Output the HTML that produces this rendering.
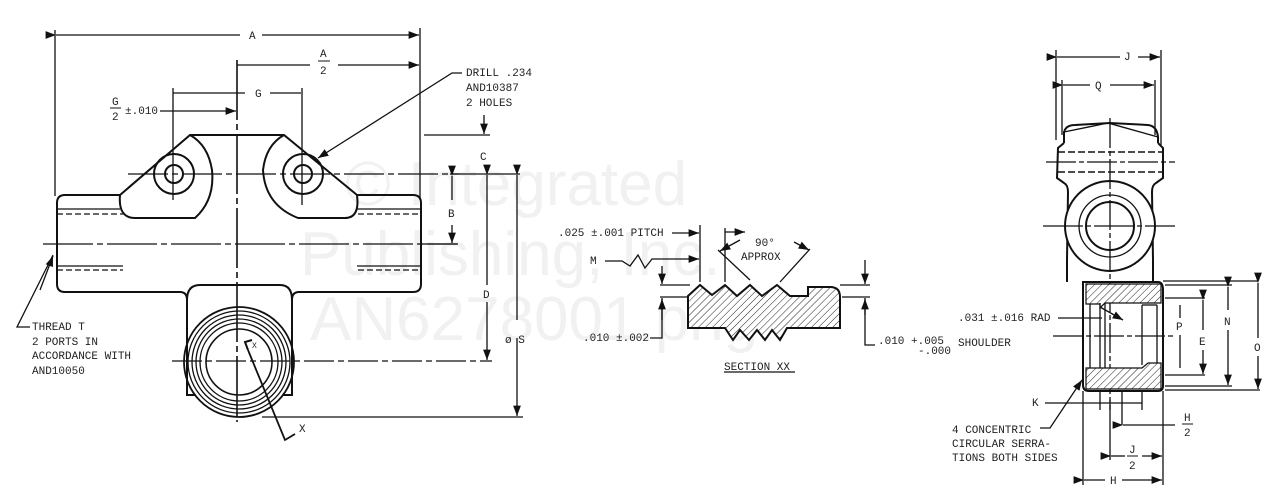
<!DOCTYPE html>
<html><head><meta charset="utf-8"><style>
html,body{margin:0;padding:0;background:#fff;width:1272px;height:498px;overflow:hidden}
svg{display:block}
text{font-family:"Liberation Mono",monospace;font-size:11px;fill:#222}
.wm{font-family:"Liberation Sans",sans-serif;font-size:62px;fill:#f1f1f1}
</style></head><body>
<svg width="1272" height="498" viewBox="0 0 1272 498" xmlns="http://www.w3.org/2000/svg">
<defs>
<pattern id="h" width="5" height="5" patternUnits="userSpaceOnUse" patternTransform="rotate(45)">
<rect width="5" height="5" fill="#fff"/><line x1="0" y1="0" x2="0" y2="5" stroke="#222" stroke-width="1"/></pattern>
<marker id="a" markerWidth="8" markerHeight="6" refX="8" refY="3" orient="auto"><path d="M0,0 L8,3 L0,6 z" fill="#111"/></marker>
</defs>
<text class="wm" x="345" y="205">© Integrated</text>
<text class="wm" x="300" y="275">Publishing, Inc.</text>
<text class="wm" x="310" y="340">AN6278001.png</text>

<g stroke="#111" fill="none" stroke-width="1.3">
<line x1="55" y1="30" x2="55" y2="196"/><line x1="420" y1="28" x2="420" y2="200"/>
<line x1="56" y1="35" x2="240" y2="35" marker-start="url(#a)"/><line x1="262" y1="35" x2="419" y2="35" marker-end="url(#a)"/>
<line x1="237" y1="65" x2="310" y2="65"/><line x1="338" y1="65" x2="419" y2="65" marker-end="url(#a)"/>
<line x1="173" y1="88" x2="173" y2="200"/><line x1="302" y1="88" x2="302" y2="205"/>
<line x1="173" y1="93" x2="245" y2="93"/><line x1="270" y1="93" x2="301" y2="93"/>
<line x1="160" y1="111" x2="236" y2="111" marker-end="url(#a)"/>
<line x1="237" y1="60" x2="237" y2="422" stroke-width="1.6" stroke-dasharray="60 4 6 4"/>
<path d="M120,195 L190,135 L284,135 L357,195" stroke-width="2"/>
<path d="M120,195 Q118,218 135,218 L195,218 Q215,200 212,170 Q208,145 190,135" stroke-width="2"/>
<path d="M357,195 Q360,218 345,218 L298,218 Q265,205 263,170 Q266,145 284,135" stroke-width="2"/>
<circle cx="174" cy="174" r="20" stroke-width="2"/><circle cx="174" cy="174" r="9" stroke-width="2"/>
<circle cx="303" cy="174" r="20" stroke-width="2"/><circle cx="303" cy="174" r="9" stroke-width="2"/>
<line x1="128" y1="174" x2="460" y2="174" stroke-dasharray="40 4 6 4"/>
<path d="M120,195 L65,195 Q57,195 57,203 L57,284 Q57,292 65,292 L180,292 Q187,292 187,300 M292,300 Q292,292 299,292 L413,292 Q421,292 421,284 L421,203 Q421,195 413,195 L357,195" stroke-width="2"/>
<line x1="57" y1="209" x2="120" y2="209"/><line x1="57" y1="214" x2="123" y2="214" stroke-dasharray="6 3"/>
<line x1="357" y1="209" x2="421" y2="209"/><line x1="358" y1="214" x2="421" y2="214" stroke-dasharray="6 3"/>
<line x1="57" y1="266" x2="123" y2="266"/><line x1="57" y1="270" x2="123" y2="270" stroke-dasharray="6 3"/>
<line x1="357" y1="266" x2="421" y2="266"/><line x1="358" y1="270" x2="421" y2="270" stroke-dasharray="6 3"/>
<line x1="43" y1="244" x2="457" y2="244" stroke-dasharray="50 4 6 4"/>
<path d="M187,300 L187,395 L195,395 M283,395 L292,395 L292,300" stroke-width="2"/>
<path d="M187,300 Q187,285 200,285 L280,285 Q292,285 292,300" stroke-width="2"/>
<circle cx="239" cy="362" r="55" stroke-width="1.8"/><circle cx="239" cy="362" r="51"/>
<circle cx="239" cy="362" r="47"/><circle cx="239" cy="362" r="43"/><circle cx="239" cy="362" r="39"/>
<circle cx="239" cy="362" r="33" stroke-width="1.6"/>
<line x1="172" y1="361" x2="492" y2="361" stroke-dasharray="30 4 6 4"/>
<line x1="424" y1="135" x2="490" y2="135"/>
<line x1="484" y1="115" x2="484" y2="134" marker-end="url(#a)"/>
<line x1="450" y1="174" x2="520" y2="174"/>
<line x1="452" y1="176" x2="452" y2="200" marker-start="url(#a)"/><line x1="452" y1="225" x2="452" y2="243" marker-end="url(#a)"/>
<line x1="421" y1="244" x2="458" y2="244"/>
<line x1="487" y1="175" x2="487" y2="285" marker-start="url(#a)"/><line x1="487" y1="302" x2="487" y2="360" marker-end="url(#a)"/>
<line x1="517" y1="175" x2="517" y2="320" marker-start="url(#a)"/><line x1="517" y1="338" x2="517" y2="416" marker-end="url(#a)"/>
<line x1="262" y1="417" x2="523" y2="417"/>
<path d="M248,350 L245,342 L252,340" stroke-width="2"/>
<path d="M248,350 L285,440 L295,434" stroke-width="1.8"/>
<path d="M30,327 L17,327 L53,255"/><line x1="40" y1="290" x2="53" y2="256" marker-end="url(#a)"/>
<path d="M462,73 L452,73 L318,158" marker-end="url(#a)"/>

<path d="M688,296 L700,285 L712,295 L725,285 L737,296 L750,285 L762,296 L777,285 L790,296 L808,296 L808,287 L830,287 Q840,287 840,297 L840,328 L787,328 L780,340 L772,330 L765,340 L757,330 L749,340 L740,330 L733,340 L725,328 L688,328 Z" fill="url(#h)" stroke-width="2"/>
<line x1="660" y1="285" x2="690" y2="285"/><line x1="660" y1="297" x2="688" y2="297"/>
<line x1="840" y1="285" x2="870" y2="285"/><line x1="842" y1="297" x2="870" y2="297"/>
<line x1="700" y1="225" x2="700" y2="282"/><line x1="725" y1="228" x2="725" y2="282"/>
<line x1="672" y1="233" x2="699" y2="233" marker-end="url(#a)"/>
<line x1="725" y1="232" x2="745" y2="232" marker-end="url(#a)"/>
<path d="M605,261 L622,261 L630,266 L638,255 L645,268 L652,259 L699,259" marker-end="url(#a)"/>
<line x1="718" y1="250" x2="750" y2="280"/><line x1="740" y1="240" x2="720" y2="251" marker-end="url(#a)"/>
<line x1="810" y1="249" x2="780" y2="282"/><line x1="794" y1="242" x2="809" y2="250" marker-end="url(#a)"/>
<line x1="662" y1="266" x2="662" y2="284" marker-end="url(#a)"/>
<path d="M662,298 L662,338 L650,338"/><line x1="662" y1="320" x2="662" y2="299" marker-end="url(#a)"/>
<line x1="865" y1="260" x2="865" y2="284" marker-end="url(#a)"/>
<path d="M865,298 L865,345 L875,345"/><line x1="865" y1="315" x2="865" y2="299" marker-end="url(#a)"/>
<line x1="724" y1="372" x2="795" y2="372"/>

<line x1="1056" y1="50" x2="1056" y2="140"/><line x1="1161" y1="50" x2="1161" y2="145"/>
<line x1="1057" y1="57" x2="1120" y2="57" marker-start="url(#a)"/><line x1="1138" y1="57" x2="1160" y2="57" marker-end="url(#a)"/>
<line x1="1062" y1="80" x2="1062" y2="135"/><line x1="1155" y1="80" x2="1155" y2="135"/>
<line x1="1063" y1="85" x2="1090" y2="85" marker-start="url(#a)"/><line x1="1110" y1="85" x2="1154" y2="85" marker-end="url(#a)"/>
<path d="M1064,143 L1064,132 Q1066,125 1075,125 L1110,123 L1148,125 Q1157,126 1158,137 L1158,143" stroke-width="2"/>
<path d="M1064,132 L1108,123 L1158,137" stroke-width="1.4"/>
<path d="M1064,143 L1058,148 L1057,178 L1064,183 Q1068,185 1068,192 L1067,260 L1067,282" stroke-width="2"/>
<path d="M1158,143 L1163,148 L1163,178 L1156,183 Q1152,185 1152,192 L1153,260 L1153,282" stroke-width="2"/>
<line x1="1058" y1="152" x2="1163" y2="152" stroke-dasharray="7 3" stroke-width="1.6"/>
<line x1="1046" y1="162" x2="1175" y2="162" stroke-dasharray="30 3 5 3"/>
<line x1="1058" y1="172" x2="1163" y2="172" stroke-dasharray="7 3" stroke-width="1.6"/>
<circle cx="1110" cy="226" r="45" fill="#fff" stroke-width="2"/>
<circle cx="1110" cy="226" r="31"/><circle cx="1110" cy="226" r="24" stroke-width="2"/>
<line x1="1110" y1="118" x2="1110" y2="410" stroke-dasharray="30 3 5 3"/>
<line x1="1043" y1="226" x2="1175" y2="226" stroke-dasharray="40 3 5 3"/>
<path d="M1083,282 L1158,282 Q1163,282 1163,290 L1163,386 Q1163,391 1158,391 L1089,391 Q1083,391 1083,385 Z" stroke-width="2"/>
<path d="M1086,284 L1161,284 L1161,303 L1105,303 L1100,308 L1100,304 L1086,304 Z" fill="url(#h)" stroke-width="1.2"/>
<path d="M1086,368 L1142,368 L1148,363 L1161,363 L1161,389 L1086,389 Z" fill="url(#h)" stroke-width="1.2"/>
<line x1="1100" y1="303" x2="1100" y2="368"/><line x1="1105" y1="303" x2="1105" y2="368"/>
<line x1="1142" y1="305" x2="1142" y2="365"/><line x1="1157" y1="305" x2="1157" y2="363"/>
<line x1="1090" y1="304" x2="1090" y2="368"/><line x1="1142" y1="305" x2="1157" y2="305"/>
<line x1="1053" y1="336" x2="1173" y2="336" stroke-dasharray="30 3 5 3"/>
<line x1="1163" y1="281" x2="1258" y2="281"/><line x1="1165" y1="285" x2="1232" y2="285"/>
<line x1="1165" y1="298" x2="1205" y2="298"/><line x1="1165" y1="375" x2="1205" y2="375"/>
<line x1="1165" y1="386" x2="1232" y2="386"/><line x1="1165" y1="390" x2="1260" y2="390"/>
<line x1="1180" y1="305" x2="1180" y2="318"/><line x1="1180" y1="335" x2="1180" y2="368"/>
<line x1="1203" y1="300" x2="1203" y2="330" marker-start="url(#a)"/><line x1="1203" y1="350" x2="1203" y2="374" marker-end="url(#a)"/>
<line x1="1228" y1="287" x2="1228" y2="310" marker-start="url(#a)"/><line x1="1228" y1="330" x2="1228" y2="385" marker-end="url(#a)"/>
<line x1="1258" y1="283" x2="1258" y2="338" marker-start="url(#a)"/><line x1="1258" y1="356" x2="1258" y2="389" marker-end="url(#a)"/>
<line x1="1058" y1="318" x2="1102" y2="318"/><line x1="1100" y1="307" x2="1123" y2="320" marker-end="url(#a)"/>
<line x1="1083" y1="391" x2="1083" y2="485"/><line x1="1163" y1="391" x2="1163" y2="485"/>
<line x1="1100" y1="390" x2="1100" y2="410"/><line x1="1142" y1="390" x2="1142" y2="410"/>
<line x1="1122" y1="390" x2="1122" y2="425"/><line x1="1110" y1="400" x2="1110" y2="460"/>
<line x1="1045" y1="403" x2="1142" y2="403"/>
<line x1="1123" y1="425" x2="1175" y2="425" marker-start="url(#a)"/>
<line x1="1111" y1="456" x2="1125" y2="456" marker-start="url(#a)"/><line x1="1142" y1="456" x2="1162" y2="456" marker-end="url(#a)"/>
<line x1="1084" y1="480" x2="1105" y2="480" marker-start="url(#a)"/><line x1="1122" y1="480" x2="1162" y2="480" marker-end="url(#a)"/>
<path d="M1040,428 L1050,428 L1082,380" marker-end="url(#a)"/>
</g>

<text x="249" y="39">A</text>
<text x="320" y="57">A</text><line x1="318" y1="61" x2="330" y2="61" stroke="#111"/><text x="320" y="74">2</text>
<text x="255" y="97">G</text>
<text x="112" y="105">G</text><line x1="110" y1="108" x2="121" y2="108" stroke="#111"/><text x="112" y="120">2</text>
<text x="125" y="114">±.010</text>
<text x="466" y="76">DRILL .234</text>
<text x="466" y="91">AND10387</text>
<text x="466" y="106">2 HOLES</text>
<text x="480" y="160">C</text>
<text x="448" y="217">B</text>
<text x="483" y="298">D</text>
<text x="505" y="343">ø S</text>
<text x="252" y="348" style="font-size:8px">X</text>
<text x="299" y="432">X</text>
<text x="32" y="330">THREAD T</text>
<text x="32" y="345">2 PORTS IN</text>
<text x="32" y="359">ACCORDANCE WITH</text>
<text x="32" y="374">AND10050</text>
<text x="558" y="236">.025 ±.001 PITCH</text>
<text x="590" y="264">M</text>
<text x="755" y="246">90°</text>
<text x="741" y="260">APPROX</text>
<text x="583" y="341">.010 ±.002</text>
<text x="878" y="344">.010 +.005</text>
<text x="918" y="354">-.000</text>
<text x="724" y="370">SECTION XX</text>
<text x="1124" y="60">J</text>
<text x="1095" y="89">Q</text>
<text x="958" y="321">.031 ±.016 RAD</text>
<text x="958" y="346">SHOULDER</text>
<text x="1176" y="330">P</text>
<text x="1199" y="345">E</text>
<text x="1224" y="325">N</text>
<text x="1254" y="351">O</text>
<text x="1032" y="406">K</text>
<text x="952" y="433">4 CONCENTRIC</text>
<text x="952" y="447">CIRCULAR SERRA-</text>
<text x="952" y="461">TIONS BOTH SIDES</text>
<text x="1184" y="421">H</text><line x1="1182" y1="424" x2="1193" y2="424" stroke="#111"/><text x="1184" y="436">2</text>
<text x="1129" y="453">J</text><line x1="1127" y1="456" x2="1138" y2="456" stroke="#111"/><text x="1129" y="469">2</text>
<text x="1110" y="484">H</text>
</svg>
</body></html>
